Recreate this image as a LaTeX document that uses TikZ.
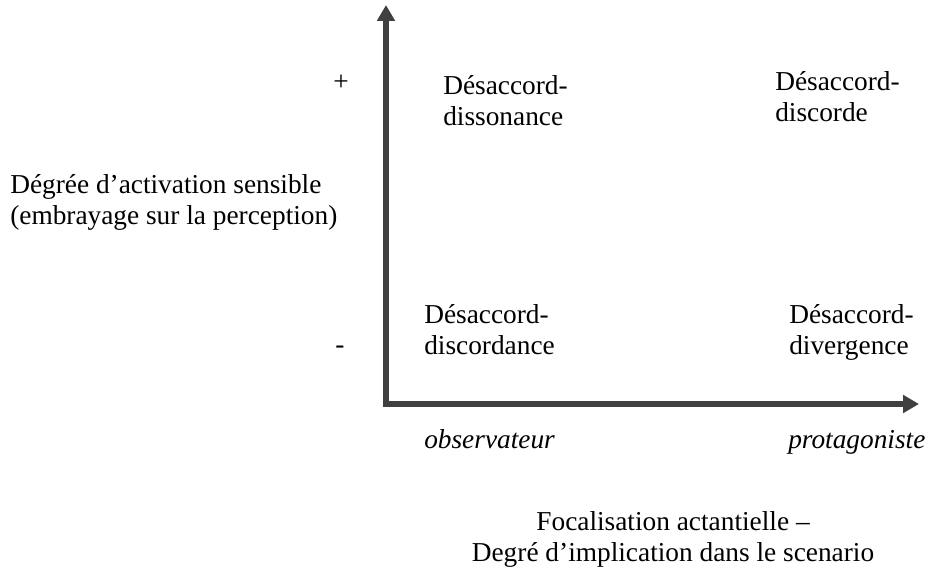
\documentclass[tikz,border=0pt]{standalone}
\usepackage{fontspec}
\setmainfont{Liberation Serif}
\usetikzlibrary{arrows.meta}
\begin{document}
\begin{tikzpicture}[x=0.75pt,y=-0.75pt,
  axis/.style={draw=black!75, line width=3.8pt, -{Triangle[length=12pt,width=13pt]}},
  lbl/.style={font=\fontsize{20.5}{23.3}\selectfont, text=black, inner sep=0pt, align=left},
  lblc/.style={lbl, align=center},
  lbli/.style={lbl, font=\fontsize{20.5}{23.3}\selectfont\itshape}]
  \useasboundingbox (0,0) rectangle (931,570);
  % axes
  \coordinate (o) at (386,404);
  \coordinate (ytop) at (386,5);
  \coordinate (xend) at (919,404);
  \draw[axis] ([yshift=-1.9pt]o) -- (ytop);
  \draw[axis] ([xshift=-1.9pt]o) -- (xend);
  % vertical axis labels
  \node[lbl] (plus) at (341,83) {+};
  \node[lbl] (minus) at (340,350) {-};
  \node[lbl, anchor=west] (ytitle) at (10,202) {Dégrée d’activation sensible\\(embrayage sur la perception)};
  % quadrants
  \node[lbl, anchor=west] (q1) at (443,101) {Désaccord-\\dissonance};
  \node[lbl, anchor=west] (q2) at (775,97) {Désaccord-\\discorde};
  \node[lbl, anchor=west] (q3) at (424,330) {Désaccord-\\discordance};
  \node[lbl, anchor=west] (q4) at (789,332) {Désaccord-\\divergence};
  % horizontal axis labels
  \node[lbli, anchor=west] (obs) at (424,439) {observateur};
  \node[lbli, anchor=west] (prot) at (788,442) {protagoniste};
  \node[lblc] (xtitle) at (673,539) {Focalisation actantielle –\\Degré d’implication dans le scenario};
\end{tikzpicture}
\end{document}
